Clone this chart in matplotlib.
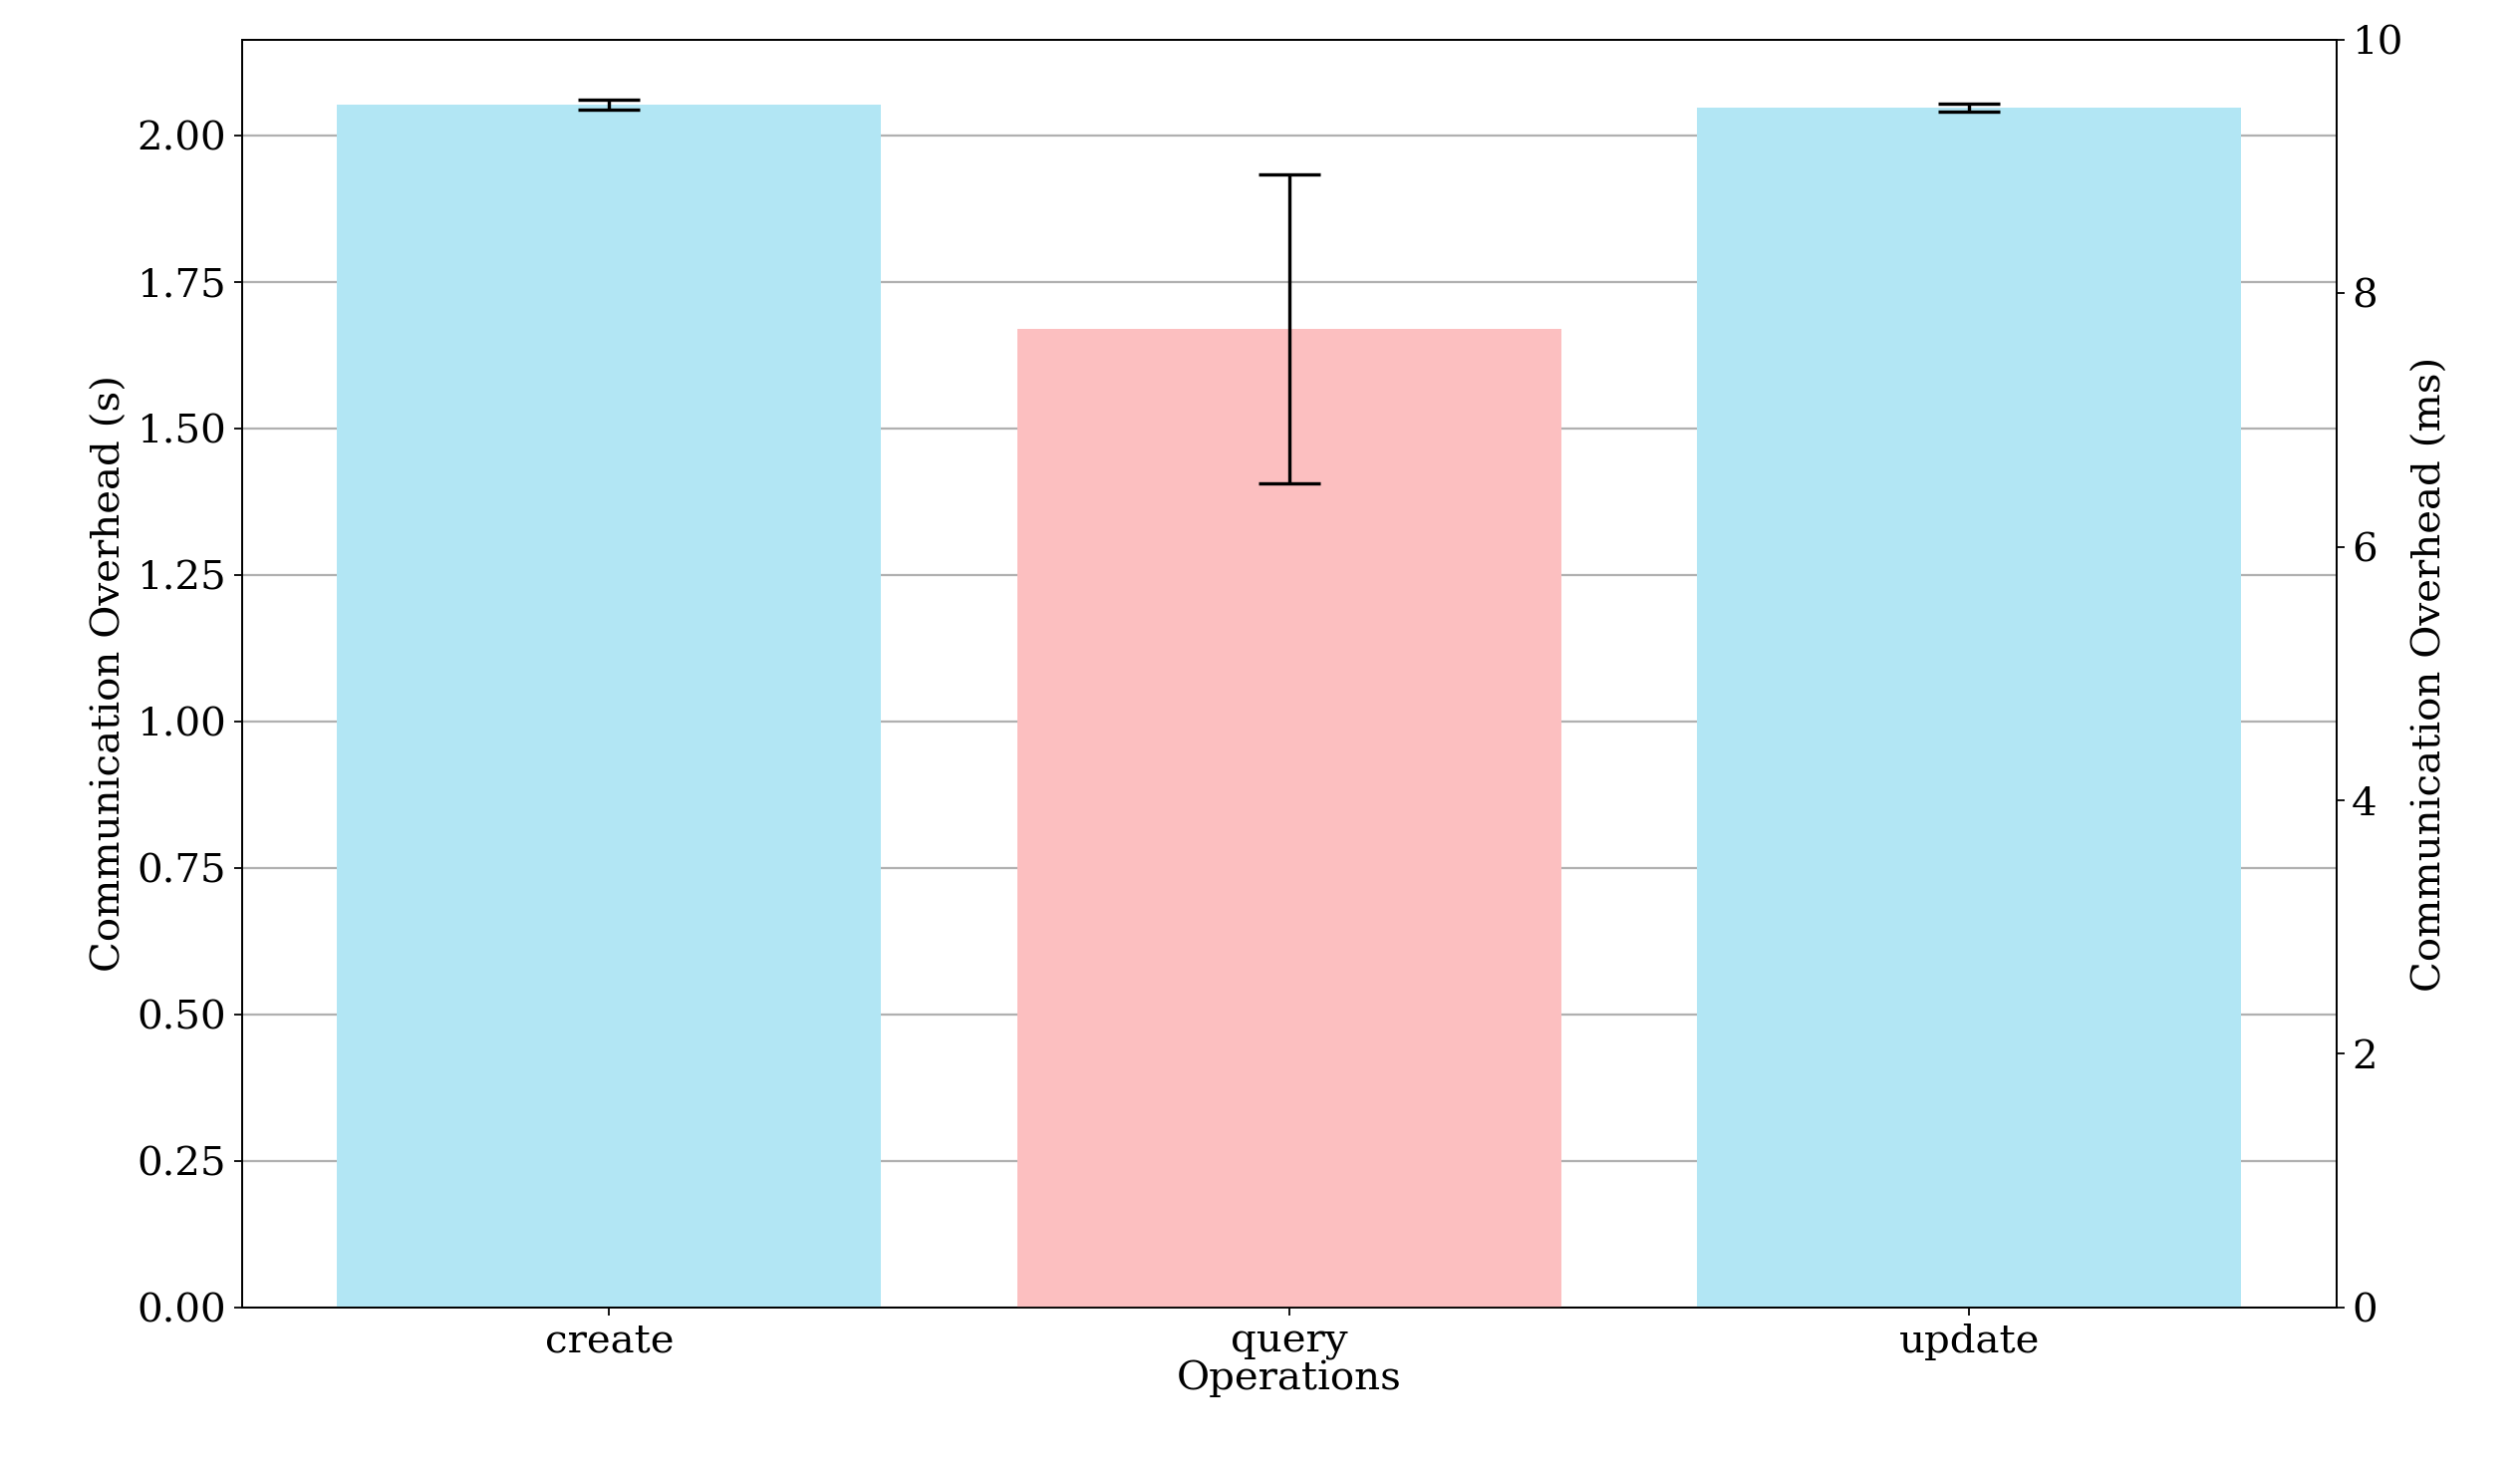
import matplotlib
matplotlib.use("Agg")
import matplotlib.pyplot as plt

plt.rcParams.update({"font.family": "DejaVu Serif", "font.size": 18})

operations = ["create", "query", "update"]
left_values = [2.052, 2.047]      # seconds (create, update)
left_errors = [0.009, 0.007]
query_value = 7.72               # milliseconds
query_error = 1.22

fig, ax = plt.subplots(figsize=(15.68, 9.17), dpi=161.3)
ax2 = ax.twinx()

ax.bar([0, 2], left_values, width=0.8, color="#b2e6f4", yerr=left_errors,
       capsize=14, error_kw={"elinewidth": 1.5, "capthick": 1.5}, zorder=2)
ax2.bar([1], [query_value], width=0.8, color="#fcbfc0", yerr=[query_error],
        capsize=14, error_kw={"elinewidth": 1.5, "capthick": 1.5}, zorder=2)

ax.set_ylim(0, 2.163)
ax2.set_ylim(0, 10)
ax.set_xlim(-0.54, 2.54)
ax.set_xticks([0, 1, 2])
ax.set_xticklabels(operations)
ax.set_yticks([0, 0.25, 0.5, 0.75, 1.0, 1.25, 1.5, 1.75, 2.0])
ax.yaxis.set_major_formatter(matplotlib.ticker.FormatStrFormatter("%.2f"))
ax.grid(axis="y", color="#b0b0b0", linewidth=1, zorder=0)
ax.set_axisbelow(True)
ax.set_xlabel("Operations", labelpad=0)
ax.set_ylabel("Communication Overhead (s)")
ax2.set_ylabel("Communication Overhead (ms)")

fig.subplots_adjust(left=0.096, right=0.927, top=0.973, bottom=0.113)
fig.savefig("out.png", dpi=161.3)
